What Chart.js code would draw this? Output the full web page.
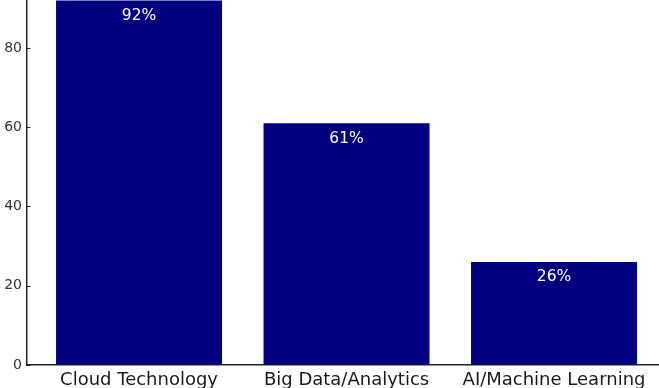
<!DOCTYPE html>
<html>
<head>
<meta charset="utf-8">
<script src="https://cdn.jsdelivr.net/npm/chart.js@4"></script>
<style>
  html, body { margin: 0; padding: 0; background: #fff; }
  #wrap { width: 659px; height: 388px; overflow: hidden; position: relative; }
</style>
</head>
<body>
<div id="wrap"><canvas id="chart"></canvas></div>
<script>
// chart data
const categories = ['Cloud Technology', 'Big Data/Analytics', 'AI/Machine Learning'];
const adoption = [92, 61, 26];
const yTicks = [0, 20, 40, 60, 80];

const axisColor = '#222';

// percent labels inside the top of each bar + inward y ticks
const extras = {
    id: 'extras',
    afterDatasetsDraw(chart) {
        const ctx = chart.ctx;
        const meta = chart.getDatasetMeta(0);
        ctx.save();
        ctx.fillStyle = '#fff';
        ctx.font = '15.5px "DejaVu Sans"';
        ctx.textAlign = 'center';
        ctx.textBaseline = 'middle';
        meta.data.forEach((bar, i) => {
            ctx.fillText(adoption[i] + '%', bar.x, bar.y + 15.5);
        });
        ctx.restore();
    },
    afterDraw(chart) {
        const ctx = chart.ctx;
        const y = chart.scales.y;
        ctx.save();
        ctx.strokeStyle = axisColor;
        ctx.lineWidth = 1;
        yTicks.forEach(v => {
            const py = Math.round(y.getPixelForValue(v)) + 0.5;
            ctx.beginPath();
            ctx.moveTo(chart.chartArea.left, py);
            ctx.lineTo(chart.chartArea.left + 3.5, py);
            ctx.stroke();
        });
        ctx.restore();
    }
};

new Chart(document.getElementById('chart'), {
    type: 'bar',
    data: {
        datasets: [{
            data: adoption.map((v, i) => ({ x: i, y: v })),
            backgroundColor: '#000080',
            borderWidth: 0,
            barPercentage: 0.8,
            categoryPercentage: 1
        }]
    },
    options: {
        responsive: true,
        maintainAspectRatio: false,
        animation: false,
        layout: { padding: 0 },
        plugins: {
            legend: { display: false },
            tooltip: { enabled: false }
        },
        scales: {
            x: {
                type: 'linear',
                min: -0.54,
                max: 2.506,
                offset: false,
                grid: { display: false },
                border: { display: true, color: axisColor, width: 1.5 },
                afterBuildTicks(scale) {
                    scale.ticks = categories.map((c, i) => ({ value: i }));
                },
                ticks: {
                    maxRotation: 0,
                    autoSkip: false,
                    padding: -3,
                    color: '#1a1a1a',
                    font: { family: 'DejaVu Sans', size: 18 },
                    callback: (v) => categories[v]
                },
                afterFit(scale) {
                    scale.height = 23;
                    scale.paddingLeft = 0;
                    scale.paddingRight = 0;
                }
            },
            y: {
                min: 0,
                max: 92.1,
                grid: { display: true, drawOnChartArea: false, drawTicks: false },
                border: { display: true, color: axisColor, width: 1.5 },
                afterBuildTicks(scale) {
                    scale.ticks = yTicks.map(v => ({ value: v }));
                },
                ticks: {
                    padding: 5,
                    color: '#333',
                    font: { family: 'DejaVu Sans', size: 14 }
                },
                afterFit(scale) {
                    scale.width = 27;
                    scale.paddingTop = 0;
                    scale.paddingBottom = 0;
                }
            }
        }
    },
    plugins: [extras]
});
</script>
</body>
</html>
